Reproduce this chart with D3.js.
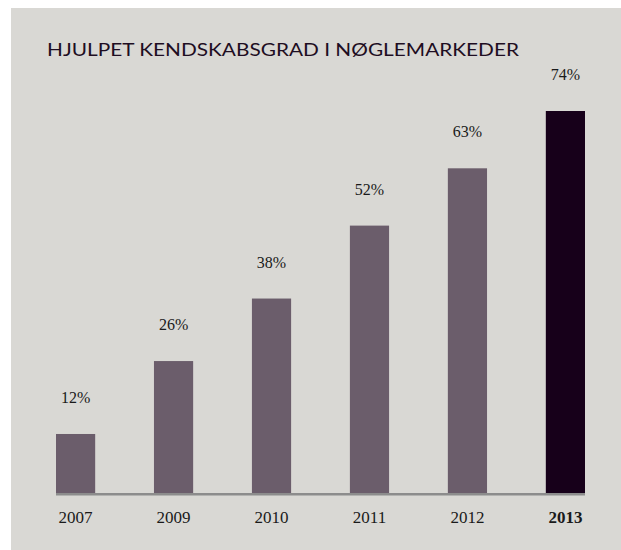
<!DOCTYPE html>
<html>
<head>
<meta charset="utf-8">
<script src="https://cdn.jsdelivr.net/npm/d3@7"></script>
<style>
  body { margin: 0; background: #ffffff; }
  svg { display: block; }
</style>
</head>
<body>
<div id="chart"></div>
<script>
// data
const years = ['2007', '2009', '2010', '2011', '2012', '2013'];
const values = [12, 26, 38, 52, 63, 74];
const labels = ['12%', '26%', '38%', '52%', '63%', '74%'];
const title = 'HJULPET KENDSKABSGRAD I NØGLEMARKEDER';

const width = 621, height = 550;
const baseline = 493;

const svg = d3.select('#chart').append('svg')
    .attr('width', width)
    .attr('height', height);

// panel background
svg.append('rect')
    .attr('x', 11).attr('y', 8)
    .attr('width', width - 11).attr('height', height - 8)
    .attr('fill', '#d9d8d4');

// title
svg.append('text')
    .attr('x', 47).attr('y', 56)
    .attr('font-family', 'Lato, "Open Sans", sans-serif')
    .attr('font-size', 18)
    .attr('fill', '#1e0d22')
    .attr('textLength', 472)
    .attr('lengthAdjust', 'spacingAndGlyphs')
    .text(title);

// scales
const xScale = d3.scaleBand()
    .domain(years)
    .range([56, 585])
    .paddingInner(0.6)
    .paddingOuter(0);

const yScale = d3.scaleLinear()
    .domain([0, 74])
    .range([496.5, 111]);

// bars
svg.selectAll('.bar')
    .data(values)
    .enter()
    .append('rect')
    .attr('class', 'bar')
    .attr('x', (d, i) => xScale(years[i]))
    .attr('y', d => yScale(d))
    .attr('width', xScale.bandwidth())
    .attr('height', d => baseline - yScale(d))
    .attr('fill', (d, i) => i === years.length - 1 ? '#17001a' : '#6b5d6b');

// value labels
svg.selectAll('.val')
    .data(values)
    .enter()
    .append('text')
    .attr('class', 'val')
    .attr('x', (d, i) => xScale(years[i]) + xScale.bandwidth() / 2)
    .attr('y', d => yScale(d) - 31)
    .attr('text-anchor', 'middle')
    .attr('font-family', '"Liberation Serif", "DejaVu Serif", serif')
    .attr('font-size', 16)
    .attr('fill', '#1a1a1a')
    .text((d, i) => labels[i]);

// baseline axis
const xAxis = d3.axisBottom(xScale).tickSize(0).tickPadding(0);
const axisG = svg.append('g')
    .attr('transform', 'translate(0,' + baseline + ')')
    .call(xAxis);

axisG.select('.domain')
    .attr('stroke', '#8c8c8c')
    .attr('stroke-width', 2.5)
    .attr('d', 'M56,1.2H585');

axisG.selectAll('.tick text')
    .attr('y', 30)
    .attr('dy', 0)
    .attr('font-family', '"Liberation Serif", "DejaVu Serif", serif')
    .attr('font-size', 17)
    .attr('fill', '#1a1a1a')
    .attr('font-weight', (d, i) => i === years.length - 1 ? 'bold' : 'normal');
</script>
</body>
</html>
